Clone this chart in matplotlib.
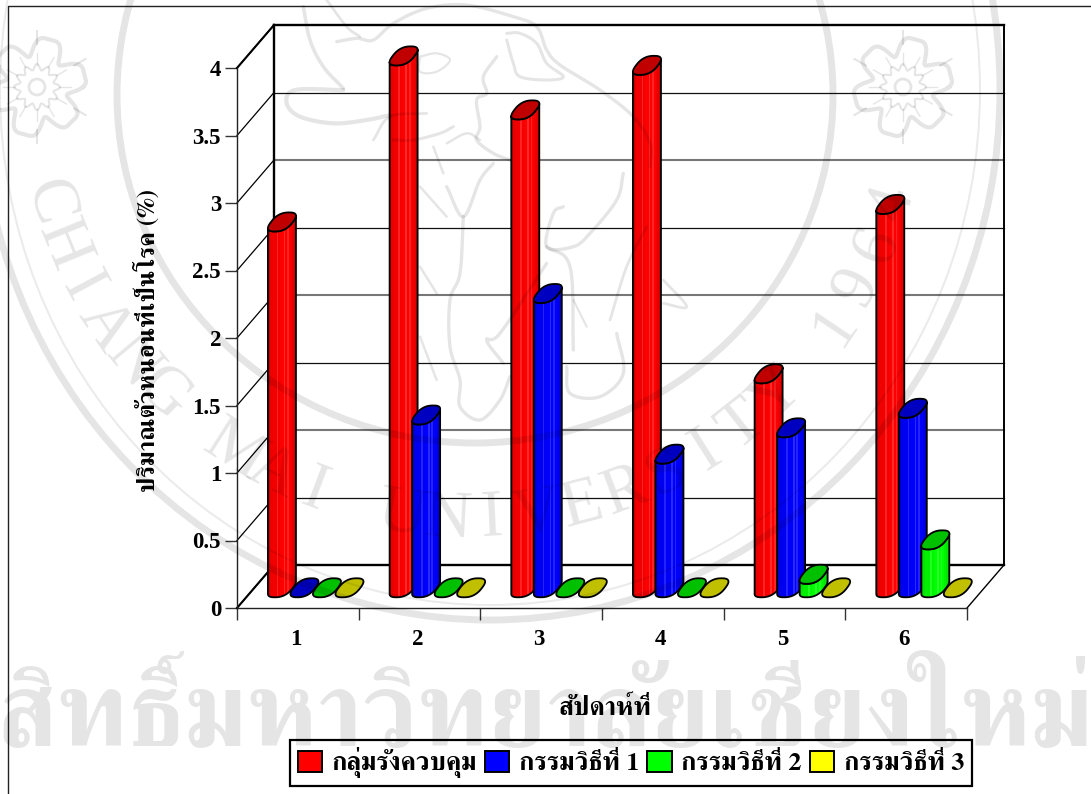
import numpy as np
import matplotlib
matplotlib.use('Agg')
import matplotlib.pyplot as plt
from matplotlib.patches import Polygon, Rectangle, Patch, Ellipse, Circle

# ---------- data ----------
weeks = ['1', '2', '3', '4', '5', '6']
control = [2.71, 3.94, 3.54, 3.87, 1.585, 2.84]
method1 = [0, 1.28, 2.18, 0.99, 1.185, 1.33]
method2 = [0, 0, 0, 0, 0.10, 0.355]
method3 = [0, 0, 0, 0, 0, 0]
series_names = ['กลุ่มรังควบคุม', 'กรรมวิธีที่ 1', 'กรรมวิธีที่ 2', 'กรรมวิธีที่ 3']
y_ticks = [0, 0.5, 1, 1.5, 2, 2.5, 3, 3.5, 4]
y_tick_labels = ['0', '0.5', '1', '1.5', '2', '2.5', '3', '3.5', '4']

# ---------- style ----------
W, H = 1091, 794
THAI = ['FreeSerif', 'Liberation Serif']
LAT = ['Liberation Serif', 'FreeSerif']
side_cols = [(1, 0, 0), (0, 0, 1), (0, 1, 0), (1, 1, 0)]
top_cols = ['#C00000', '#0000C0', '#00C000', '#C0C000']
strip_f = [.78, .90, .94, .94, .94, 1.25, .96, .98, 1.0, 1.3, 1.0, 1.25, 1.0, .95, .90, .80]

fig = plt.figure(figsize=(W / 100, H / 100), dpi=100)
fig.patch.set_facecolor('white')
ax = fig.add_axes([237 / W, 1 - 608 / H, 730 / W, 540 / H])
ax.set_xlim(0, 6)
ax.set_ylim(0, 4)
ax.patch.set_visible(False)
for s in ['top', 'right']:
    ax.spines[s].set_visible(False)
for s in ['left', 'bottom']:
    ax.spines[s].set_linewidth(1.0)
    ax.spines[s].set_color('#222222')

# depth of the 3-D box, in data units
DX, DY = 37 / (730 / 6), 43 / 135
GX, GY = 0.47 * DX, 0.47 * DY   # the depth at which bars stand


def line(xs, ys, lw=1.0, c='black', z=2):
    ax.plot(xs, ys, color=c, lw=lw, clip_on=False, zorder=z, solid_capstyle='projecting')


# floor & walls
for t in y_ticks:
    line([0, DX], [t, t + DY], lw=0.9)
    if 0 < t < 4:
        whole = float(t).is_integer()
        line([DX, 6 + DX], [t + DY, t + DY], lw=1.5 if whole else 0.9, c='#777777' if whole else '#111111')
line([0, DX], [0, DY], lw=1.5)
line([0, DX], [4, 4 + DY], lw=1.5)
line([DX, DX], [DY, 4 + DY], lw=1.7)
line([DX, 6 + DX], [4 + DY, 4 + DY], lw=1.7)
line([6 + DX, 6 + DX], [DY, 4 + DY], lw=1.4)
line([DX, 6 + DX], [DY, DY], lw=1.7)
line([6, 6 + DX], [0, DY], lw=1.0)

# ticks
ax.set_yticks(y_ticks)
ax.set_yticklabels(y_tick_labels, family=LAT, weight='bold', fontsize=16.5)
ax.tick_params(axis='y', length=8.5, width=1.0, pad=3, color='#333333')
ax.set_xticks(range(7))
ax.set_xticklabels([])
ax.tick_params(axis='x', which='major', length=8.5, width=1.0, color='#333333')
ax.set_xticks(np.arange(6) + 0.484, minor=True)
ax.set_xticklabels(weeks, minor=True, family=LAT, weight='bold', fontsize=16.5)
ax.tick_params(axis='x', which='minor', length=0, pad=15)

# ---------- cylinders ----------
sx, sy = 730 / 6, 135.0
t = np.linspace(0, 2 * np.pi, 121)[:-1]
p = 0.78
cc = np.sign(np.cos(t)) * np.abs(np.cos(t)) ** p
ss = np.sign(np.sin(t)) * np.abs(np.sin(t)) ** p
ell_x = 11.9 * cc + 7.8 * ss
ell_x = ell_x / np.abs(ell_x).max() * 14.0 / sx
ell_y = (9.5 * ss) / sy
i0 = int(np.argmin(ell_x))
ell_x, ell_y = np.roll(ell_x, -i0), np.roll(ell_y, -i0)
k = int(np.argmax(ell_x))
low_x, low_y = ell_x[:k + 1], ell_y[:k + 1]
if low_y.mean() > 0:
    low_x = np.r_[ell_x[k:], ell_x[0]][::-1]
    low_y = np.r_[ell_y[k:], ell_y[0]][::-1]
xmin, xmax = ell_x.min(), ell_x.max()

series = [control, method1, method2, method3]
pitch = 0.185
for g in range(len(weeks)):
    for j, vals in enumerate(series):
        v = vals[g]
        cx = g + 0.5 + GX + (j - 1.5) * pitch + 0.004
        y0 = GY
        y1 = GY + v
        if v > 0:
            sil = np.r_[np.c_[cx + low_x, y0 + low_y],
                        np.c_[cx + low_x[::-1], y1 + low_y[::-1]]]
            clip = Polygon(sil, closed=True, fc='none', ec='none', transform=ax.transData)
            ax.add_patch(clip)
            clip.set_clip_on(False)
            n = len(strip_f)
            dx = (xmax - xmin) / n
            base = np.array(side_cols[j], float)
            for q, f in enumerate(strip_f):
                col = base * f if f <= 1 else base + (1 - base) * (f - 1) * 0.55
                r = Rectangle((cx + xmin + q * dx, y0 - 0.08), dx * 1.05, v + 0.16, fc=col, ec='none',
                              zorder=3 + g + j * 0.1)
                ax.add_patch(r)
                r.set_clip_box(fig.bbox)
                r.set_clip_path(clip)
            ax.add_patch(Polygon(sil, closed=True, fc='none', ec='black', lw=1.3,
                                 zorder=3.01 + g + j * 0.1, clip_on=False, joinstyle='round'))
        ax.add_patch(Polygon(np.c_[cx + ell_x, y1 + ell_y], closed=True, fc=top_cols[j], ec='black', lw=1.3,
                             zorder=3.02 + g + j * 0.1, clip_on=False, joinstyle='round'))

# ---------- axis titles & legend ----------
fig.text(147 / W, 1 - 340 / H, 'ปริมาณตัวหนอนที่เป็นโรค (%)', rotation=90, ha='center', va='center',
         family=THAI, weight='bold', fontsize=17.7)
fig.text(605 / W, 1 - 708 / H, 'สัปดาห์ที่', ha='center', va='center', family=THAI, weight='bold', fontsize=18.8)
handles = [Patch(fc=tuple(c), ec='black', lw=1.4) for c in side_cols]
leg = fig.legend(handles, series_names, ncol=4, loc='center', bbox_to_anchor=(631 / W, 1 - 763 / H),
                 prop={'family': THAI, 'weight': 'bold', 'size': 18.7}, frameon=True, fancybox=False,
                 edgecolor='black', framealpha=1, handlelength=0.93, handleheight=0.9, handletextpad=0.38,
                 columnspacing=0.3, borderpad=0.3, borderaxespad=0)
leg.get_frame().set_linewidth(1.6)

# ---------- page frame and watermark ----------
ov = fig.add_axes([0, 0, 1, 1], zorder=10)
ov.set_xlim(0, W)
ov.set_ylim(H, 0)
ov.axis('off')
ov.patch.set_visible(False)
ov.plot([7.5, 7.5, W], [H, 5.5, 5.5], color='#222222', lw=1.0)

WM = dict(color='black', alpha=0.10)
ov.add_patch(Ellipse((475, 95), 716, 696, fill=False, ec='black', alpha=0.10, lw=5))
ov.add_patch(Ellipse((490, 90), 1020, 1060, fill=False, ec='black', alpha=0.10, lw=5))
ov.add_patch(Ellipse((490, 90), 980, 1030, fill=False, ec='black', alpha=0.08, lw=1.5))

caption = 'CHIANG MAI UNIVERSITY 1964'
phis = np.linspace(73.8, -73.7, len(caption))
for ch, ph in zip(caption, phis):
    a = np.radians(ph)
    ov.text(470 - 440 * np.sin(a), 80 + 440 * np.cos(a), ch, rotation=-ph, rotation_mode='anchor',
            ha='center', va='center', family=LAT, fontsize=48, **WM)

# flowers in the corners
for fx, fy in [(37, 87), (903, 87)]:
    th = np.linspace(0, 2 * np.pi, 360)
    r = 43 + 9 * np.cos(6 * th + np.pi / 2) + 3 * np.cos(12 * th)
    ov.plot(fx + r * np.cos(th), fy + r * np.sin(th), lw=3, **WM)
    r2 = 20 + 3 * np.cos(12 * th)
    ov.plot(fx + r2 * np.cos(th), fy + r2 * np.sin(th), lw=1.5, **WM)
    ov.add_patch(Circle((fx, fy), 8, fill=False, ec='black', alpha=0.10, lw=2))
    for b in np.arange(6) * np.pi / 3 + np.pi / 6:
        ov.plot([fx + 43 * np.cos(b), fx + 56 * np.cos(b)], [fy + 43 * np.sin(b), fy + 56 * np.sin(b)], lw=1.5, **WM)
    for b in np.arange(12) * np.pi / 6:
        ov.plot([fx + 22 * np.cos(b), fx + 34 * np.cos(b)], [fy + 22 * np.sin(b), fy + 34 * np.sin(b)], lw=1.0, **WM)


def smooth(pts, n=12):
    """Catmull-Rom curve through the points of a watermark stroke."""
    P = np.asarray(pts, float)
    P = np.vstack([2 * P[0] - P[1], P, 2 * P[-1] - P[-2]])
    out = []
    for i in range(1, len(P) - 2):
        for u in np.linspace(0, 1, n, endpoint=False):
            out.append(0.5 * ((2 * P[i]) + (P[i + 1] - P[i - 1]) * u
                              + (2 * P[i - 1] - 5 * P[i] + 4 * P[i + 1] - P[i + 2]) * u ** 2
                              + (3 * P[i] - P[i - 1] - 3 * P[i + 1] + P[i + 2]) * u ** 3))
    out.append(P[-2])
    return np.array(out)


# elephant strokes, traced on a 3x grid whose origin is at pixel (280, 0)
strokes = [
    ([(70, 20), (90, 120), (130, 200), (190, 265)], 2.6),
    ([(190, 270), (45, 270), (20, 310), (60, 350), (160, 370), (260, 360), (330, 345)], 3.0),
    ([(170, 125), (230, 115), (280, 120), (340, 70), (440, 25), (560, 15), (700, 50), (770, 80), (800, 150),
      (840, 195), (960, 270), (1060, 350), (1110, 430), (1110, 500)], 2.4),
    ([(240, 110), (200, 80), (140, 0)], 2.0),
    ([(420, 170), (470, 160), (510, 180), (470, 215), (420, 215), (420, 170)], 1.6),
    ([(680, 100), (720, 100), (770, 130), (800, 190), (850, 230), (800, 240), (720, 230), (700, 190), (680, 120)], 2.2),
    ([(650, 170), (610, 230), (620, 280), (590, 300), (600, 380), (590, 420), (640, 460), (690, 480)], 2.4),
    ([(280, 420), (330, 350), (440, 340)], 2.0),
    ([(340, 420), (400, 420), (480, 400), (520, 380)], 2.2),
    ([(500, 430), (560, 400), (600, 420)], 1.8),
    ([(460, 440), (490, 520)], 1.8),
    ([(500, 560), (550, 650), (600, 540), (640, 490)], 2.4),
    ([(550, 650), (540, 820), (510, 900), (510, 1040), (540, 1140), (540, 1220), (600, 1260), (660, 1200), (690, 1130)], 2.4),
    ([(420, 560), (500, 650)], 1.8),
    ([(420, 800), (470, 880)], 1.8),
    ([(420, 1010), (470, 1140)], 1.8),
    ([(1030, 520), (1010, 600), (930, 700), (880, 740), (800, 740), (820, 640), (850, 620)], 2.4),
    ([(800, 740), (870, 800), (880, 1050)], 2.4),
    ([(880, 900), (920, 980)], 1.6),
    ([(800, 790), (660, 1000), (620, 1020), (670, 1090)], 2.4),
    ([(1100, 680), (1040, 800), (990, 960)], 2.0),
    ([(1010, 1000), (1030, 1120), (960, 1190), (870, 1180), (860, 1100)], 2.4),
    ([(1150, 840), (1220, 920), (1150, 910)], 2.0),
]
for pts, lw in strokes:
    c = smooth(pts)
    ov.plot(280 + c[:, 0] / 3, c[:, 1] / 3, lw=lw, solid_capstyle='round', **WM)

ov.text(545, 719, 'สิทธิ์มหาวิทยาลัยเชียงใหม่', ha='center', va='center', family=THAI, weight='bold',
        fontsize=76, color='black', alpha=0.10)

fig.savefig('out.png', dpi=100)
